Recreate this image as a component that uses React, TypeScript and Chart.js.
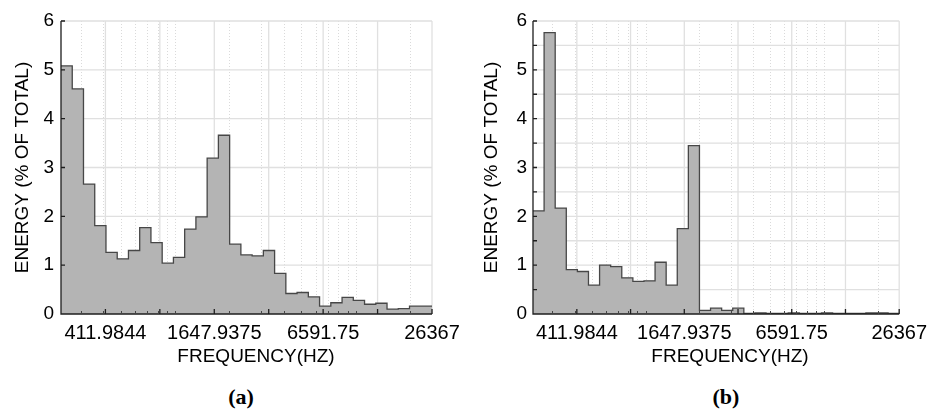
import React, { useEffect, useRef } from "react";
import { Chart, registerables } from "chart.js";

Chart.register(...registerables);

// ---- data (energy per band, % of total) ----
const energyA = [5.08, 4.61, 2.66, 1.81, 1.26, 1.13, 1.3, 1.77, 1.46, 1.04, 1.16, 1.74, 1.99, 3.19, 3.66, 1.43, 1.21, 1.19, 1.3, 0.83, 0.42, 0.44, 0.35, 0.16, 0.23, 0.34, 0.28, 0.2, 0.22, 0.1, 0.11, 0.16, 0.16];
const energyB = [2.11, 5.76, 2.17, 0.91, 0.87, 0.59, 1.0, 0.97, 0.74, 0.67, 0.68, 1.06, 0.59, 1.75, 3.45, 0.075, 0.12, 0.075, 0.12, 0.01, 0.02, 0.01, 0.01, 0.02, 0.01, 0.01, 0.02, 0.01, 0.01, 0.01, 0.02, 0.02, 0.01];

// ---- axes ----
const freqMin = 234;
const freqMax = 26367;
const xTickValues = [411.9844, 1647.9375, 6591.75, 26367];
const xTickLabels = ["411.9844", "1647.9375", "6591.75", "26367"];
const xOctaveGrid = [411.9844, 823.96875, 1647.9375, 3295.875, 6591.75, 13183.5, 26367];
const xMinorGrid = [300, 400, 500, 600, 700, 800, 900, 1000, 2000, 3000, 4000, 5000, 6000, 7000, 8000, 9000, 10000, 20000];
const yMin = 0;
const yMax = 6;
const yGridA = [1, 2, 3, 4, 5, 6];
const yGridB = [0.5, 1, 1.5, 2, 2.5, 3, 3.5, 4, 4.5, 5, 5.5, 6];
const xTitle = "FREQUENCY(HZ)";
const yTitle = "ENERGY (% OF TOTAL)";
const captions = ["(a)", "(b)"];

Chart.defaults.font.family = "'Liberation Sans', Arial, sans-serif";

const framePlugin = {
  id: "frame",
  beforeDatasetsDraw(chart: any, _args: any, opts: any) {
    const { ctx, chartArea } = chart;
    const { left, right, top, bottom } = chartArea;
    const xs = chart.scales.x;
    const ys = chart.scales.y;
    ctx.save();
    ctx.lineWidth = 1;
    ctx.strokeStyle = "#dadada";
    ctx.setLineDash([1, 2]);
    ctx.beginPath();
    for (const f of xMinorGrid) {
      const p = Math.round(xs.getPixelForValue(f)) + 0.5;
      ctx.moveTo(p, top);
      ctx.lineTo(p, bottom);
    }
    ctx.stroke();
    ctx.setLineDash([]);
    ctx.strokeStyle = "#e0e0e0";
    ctx.lineWidth = 1.3;
    ctx.beginPath();
    for (const f of xOctaveGrid) {
      const p = xs.getPixelForValue(f);
      ctx.moveTo(p, top);
      ctx.lineTo(p, bottom);
    }
    for (const v of opts.yGrid) {
      const p = ys.getPixelForValue(v);
      ctx.moveTo(left, p);
      ctx.lineTo(right, p);
    }
    ctx.stroke();
    ctx.restore();
  },
  afterDatasetsDraw(chart: any, _args: any, opts: any) {
    const { ctx, chartArea } = chart;
    const { left, right, top, bottom } = chartArea;
    const xs = chart.scales.x;
    const ys = chart.scales.y;
    ctx.save();
    ctx.strokeStyle = "#1e1e1e";
    ctx.lineWidth = 1.3;
    ctx.beginPath();
    ctx.moveTo(left, top);
    ctx.lineTo(left, bottom);
    ctx.lineTo(right, bottom);
    for (const v of opts.yGrid) {
      const p = ys.getPixelForValue(v);
      ctx.moveTo(left, p);
      ctx.lineTo(left + 4, p);
    }
    for (const f of xOctaveGrid) {
      const p = xs.getPixelForValue(f);
      ctx.moveTo(p, bottom);
      ctx.lineTo(p, bottom - 5);
    }
    ctx.stroke();
    ctx.lineWidth = 1;
    ctx.strokeStyle = "#444";
    ctx.beginPath();
    for (const f of xMinorGrid) {
      const p = Math.round(xs.getPixelForValue(f)) + 0.5;
      ctx.moveTo(p, bottom);
      ctx.lineTo(p, bottom - 3);
    }
    ctx.stroke();
    ctx.restore();
  },
};

function buildChart(
  canvas: HTMLCanvasElement,
  values: number[],
  yGrid: number[],
  axisWidth: number,
  padRight: number,
  titlePad: number,
  tickPad: number
) {
  const points = values
    .map((v, i) => ({ x: i, y: v }))
    .concat([{ x: values.length, y: values[values.length - 1] }]);
  return new Chart(canvas, {
    type: "line",
    data: {
      datasets: [
        {
          data: points,
          xAxisID: "xb",
          yAxisID: "y",
          stepped: true,
          fill: "origin",
          backgroundColor: "#b4b4b4",
          borderColor: "#474747",
          borderWidth: 1.3,
          pointRadius: 0,
        },
      ],
    },
    options: {
      animation: false,
      responsive: false,
      events: [],
      layout: { padding: { top: 21, right: padRight, left: 0, bottom: 0 } },
      plugins: {
        legend: { display: false },
        tooltip: { enabled: false },
        frame: { yGrid },
      } as any,
      scales: {
        xb: { type: "linear", axis: "x", position: "bottom", display: false, min: 0, max: values.length },
        x: {
          type: "logarithmic",
          position: "bottom",
          min: freqMin,
          max: freqMax,
          grid: { display: false, drawTicks: false },
          border: { display: false },
          ticks: {
            autoSkip: false,
            maxRotation: 0,
            minRotation: 0,
            padding: 7,
            color: "#000",
            font: { size: 20 },
            callback: (_v: any, i: number) => xTickLabels[i] ?? "",
          },
          afterBuildTicks: (s: any) => {
            s.ticks = xTickValues.map((v) => ({ value: v }));
          },
          afterFit: (s: any) => {
            s.height = 66;
          },
        },
        y: {
          type: "linear",
          position: "left",
          min: yMin,
          max: yMax,
          grid: { display: false, drawTicks: false },
          border: { display: false },
          ticks: { stepSize: 1, padding: tickPad, color: "#000", font: { size: 19 } },
          title: {
            display: true,
            text: yTitle,
            color: "#000",
            font: { size: 19 },
            padding: { top: titlePad, bottom: 0 },
          },
          afterFit: (s: any) => {
            s.width = axisWidth;
          },
        },
      } as any,
    },
    plugins: [framePlugin as any],
  });
}

export default function App() {
  const refA = useRef<HTMLCanvasElement>(null);
  const refB = useRef<HTMLCanvasElement>(null);

  useEffect(() => {
    const a = buildChart(refA.current!, energyA, yGridA, 61, 35, 11, 7);
    const b = buildChart(refB.current!, energyB, yGridB, 66, 31, 13, 6);
    return () => {
      a.destroy();
      b.destroy();
    };
  }, []);

  const titleStyle: React.CSSProperties = {
    position: "absolute",
    top: 346,
    width: 240,
    textAlign: "center",
    fontFamily: "'Liberation Sans', Arial, sans-serif",
    fontSize: 19,
    lineHeight: "19px",
    color: "#000",
    whiteSpace: "nowrap",
  };
  const capStyle: React.CSSProperties = {
    position: "absolute",
    top: 386,
    width: 60,
    textAlign: "center",
    fontFamily: "'Liberation Serif', 'Times New Roman', serif",
    fontWeight: "bold",
    fontSize: 22,
    lineHeight: "22px",
    color: "#000",
  };

  return (
    <div style={{ position: "absolute", left: 0, top: 0, width: 934, height: 418, background: "#fff" }}>
      <canvas ref={refA} width={467} height={380} style={{ position: "absolute", left: 0, top: 0 }} />
      <canvas ref={refB} width={467} height={380} style={{ position: "absolute", left: 467, top: 0 }} />
      <div style={{ ...titleStyle, left: 256 - 120 }}>{xTitle}</div>
      <div style={{ ...titleStyle, left: 730 - 120 }}>{xTitle}</div>
      <div style={{ ...capStyle, left: 241 - 30 }}>{captions[0]}</div>
      <div style={{ ...capStyle, left: 726 - 30 }}>{captions[1]}</div>
    </div>
  );
}
